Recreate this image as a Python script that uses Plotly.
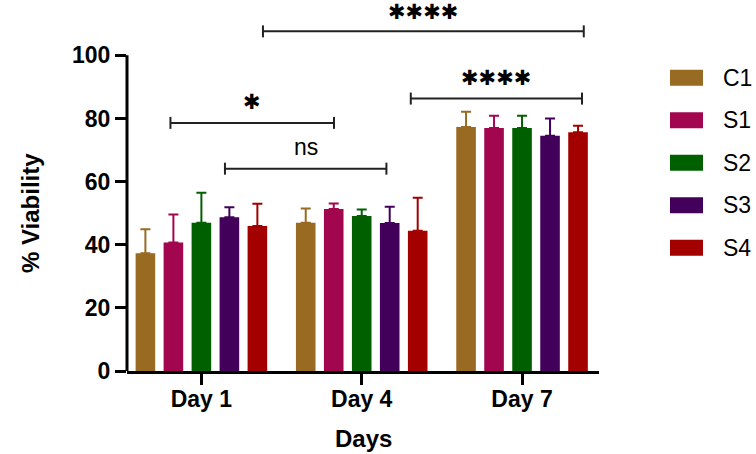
import plotly.graph_objects as go

days = ["Day 1", "Day 4", "Day 7"]
series = ["C1", "S1", "S2", "S3", "S4"]
colors = ["#986a22", "#a2064f", "#006000", "#43005a", "#a30000"]
means = {
    "C1": [37.3, 47.0, 77.3],
    "S1": [40.7, 51.3, 77.0],
    "S2": [47.0, 49.1, 77.0],
    "S3": [48.7, 46.9, 74.5],
    "S4": [45.9, 44.4, 75.6],
}
errs = {
    "C1": [7.6, 4.5, 4.8],
    "S1": [8.9, 1.8, 3.9],
    "S2": [9.5, 2.1, 3.9],
    "S3": [3.2, 5.1, 5.5],
    "S4": [7.1, 10.5, 2.1],
}
# significance brackets: (x0, x1, y, label, label_y)
brackets = [
    (0.384, 2.385, 107.6, "✱✱✱✱", 113.6),
    (1.306, 2.374, 86.3, "✱✱✱✱", 92.9),
    (-0.193, 0.827, 78.6, "✱", 85.1),
    (0.147, 1.154, 64.1, "ns", 71.1),
]

W, H = 756, 454
ML, MR, MT, MB = 127, 157, 8, 83
YMAX = 115
FONT = "Liberation Sans, Arial, sans-serif"
STARFONT = "DejaVu Sans"

fig = go.Figure()
for s, c in zip(series, colors):
    fig.add_trace(go.Bar(
        x=days, y=means[s], name=s,
        marker=dict(color=c, line=dict(width=0)),
        error_y=dict(type="data", array=errs[s], symmetric=False, arrayminus=[0]*3,
                     color=c, thickness=2, width=5),
        showlegend=False,
    ))

shapes = []
annotations = []
# y axis line only to 100
shapes.append(dict(type="line", xref="paper", yref="y", x0=0, x1=0, y0=0, y1=100,
                   line=dict(color="black", width=3)))
tick = 1.9
for x0, x1, y, lab, ly in brackets:
    shapes.append(dict(type="line", xref="x", yref="y", x0=x0, x1=x1, y0=y, y1=y,
                       line=dict(color="#222", width=2)))
    for xx in (x0, x1):
        shapes.append(dict(type="line", xref="x", yref="y", x0=xx, x1=xx, y0=y - tick, y1=y + tick,
                           line=dict(color="#222", width=2)))
    if lab == "ns":
        f = dict(family=FONT, size=23, color="black")
    else:
        f = dict(family=STARFONT, size=21, color="black")
    annotations.append(dict(x=(x0 + x1) / 2, y=ly, xref="x", yref="y", text=lab, showarrow=False,
                            font=f, yanchor="middle"))

# manual legend
pw = W - ML - MR
ph = H - MT - MB
def px2paper(px, py):
    return (px - ML) / pw, (H - MB - py) / ph

row_y = [77.7, 120.2, 162.7, 205.2, 247.7]
for s, c, ry in zip(series, colors, row_y):
    xa, ya = px2paper(670, ry - 8)
    xb, yb = px2paper(703, ry + 8)
    shapes.append(dict(type="rect", xref="paper", yref="paper", x0=xa, x1=xb, y0=yb, y1=ya,
                       fillcolor=c, line=dict(width=0)))
    tx, ty = px2paper(721, ry)
    annotations.append(dict(x=tx, y=ty, xref="paper", yref="paper", text=s, showarrow=False,
                            xanchor="left", yanchor="middle",
                            font=dict(family=FONT, size=23, color="black")))

# axis titles
tx, ty = px2paper(30, 213)
annotations.append(dict(x=tx, y=ty, xref="paper", yref="paper", text="% Viability", showarrow=False,
                        textangle=-90, xanchor="center", yanchor="middle",
                        font=dict(family=FONT, size=24, color="black", weight="bold")))
tx, ty = px2paper(363, 438)
annotations.append(dict(x=tx, y=ty, xref="paper", yref="paper", text="Days", showarrow=False,
                        xanchor="center", yanchor="middle",
                        font=dict(family=FONT, size=24, color="black", weight="bold")))

fig.update_layout(
    width=W, height=H,
    margin=dict(l=ML, r=MR, t=MT, b=MB),
    paper_bgcolor="white", plot_bgcolor="white",
    barmode="group", bargap=0.127, bargroupgap=0.30,
    font=dict(family=FONT, color="black"),
    shapes=shapes, annotations=annotations,
    xaxis=dict(range=[-0.464, 2.48], showline=True, linecolor="black", linewidth=3,
               ticks="outside", ticklen=11, tickwidth=3, tickcolor="black",
               showgrid=False, zeroline=False, ticklabelstandoff=-6,
               tickfont=dict(family=FONT, size=23, color="black", weight="bold")),
    yaxis=dict(range=[0, YMAX], showline=False, tickvals=[0, 20, 40, 60, 80, 100],
               ticks="outside", ticklen=11, tickwidth=3, tickcolor="black",
               showgrid=False, zeroline=False,
               tickfont=dict(family=FONT, size=23, color="black", weight="bold")),
)
fig.write_html("out.html")
